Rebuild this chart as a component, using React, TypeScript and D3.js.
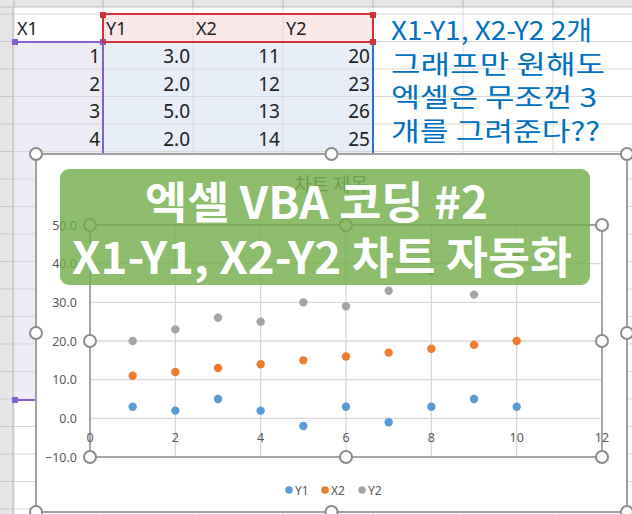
import React from 'react';
import * as d3 from 'd3';

// ---- data ----
const xValues = [1, 2, 3, 4, 5, 6, 7, 8, 9, 10];
const y1Values = [3, 2, 5, 2, -2, 3, -1, 3, 5, 3];
const x2Values = [11, 12, 13, 14, 15, 16, 17, 18, 19, 20];
const y2Values = [20, 23, 26, 25, 30, 29, 33, 38, 32, 42];
const seriesNames = ['Y1', 'X2', 'Y2'];
const seriesColors = ['#5b9bd5', '#ed7d31', '#a5a5a5'];
const xTicks = [0, 2, 4, 6, 8, 10, 12];
const yTicks = [-10, 0, 10, 20, 30, 40, 50];
const headerLabels = ['X1', 'Y1', 'X2', 'Y2'];
const tableRows = 4;
const noteLines = ['X1-Y1, X2-Y2 2개', '그래프만 원해도', '엑셀은 무조껀 3', '개를 그려준다??'];
const noteWidths = [201, 214, 206, 209];
const bannerLines = ['엑셀 VBA 코딩 #2', 'X1-Y1, X2-Y2 차트 자동화'];
const chartTitle = '차트 제목';

const W = 632;
const H = 514;
const colEdges = [14, 103, 193, 283, 373, 463, 553, 643];
const rowTop = 14;
const rowH = 27.5;
const KR = '"Noto Sans CJK KR", "Noto Sans", sans-serif';
const UI = '"Noto Sans", "Open Sans", sans-serif';

const chart = { x0: 36, x1: 627, y0: 154, y1: 512 };
const plot = { x0: 90, x1: 602, y0: 225, y1: 457 };

export default function App() {
  const x = d3.scaleLinear().domain([0, 12]).range([plot.x0, plot.x1]);
  const y = d3.scaleLinear().domain([-10, 50]).range([plot.y1, plot.y0]);
  const series = [y1Values, x2Values, y2Values];
  const fmt1 = d3.format('.1f');

  const rowLines = d3.range(0, 19).map((k) => rowTop + k * rowH);

  const handle = (cx: number, cy: number, key: string) => (
    <circle key={key} cx={cx} cy={cy} r={6} fill="#fff" stroke="#8c8c8c" strokeWidth={2} />
  );
  const sq = (cx: number, cy: number, color: string, key: string) => (
    <rect key={key} x={cx - 3} y={cy - 3} width={6} height={6} fill={color} />
  );

  const colVals = [xValues, y1Values, x2Values, y2Values];

  const legendItems = [
    { dot: 289, text: 295 },
    { dot: 325, text: 331 },
    { dot: 362, text: 368 },
  ];

  return (
    <svg width={W} height={H} style={{ position: 'absolute', left: 0, top: 0 }}>
      <rect x={0} y={0} width={W} height={H} fill="#fff" />
      {/* selection fills */}
      <rect x={14} y={42} width={89} height={358} fill="#eeecf7" />
      <rect x={103} y={42} width={270} height={358} fill="#e8eef8" />
      <rect x={103} y={14} width={270} height={28} fill="#fbe9e9" />
      {/* grid */}
      {colEdges.map((cx, i) => (
        <line key={'vc' + i} x1={cx} x2={cx} y1={7} y2={H} stroke="#d9d9d9" />
      ))}
      {rowLines.map((ry, i) => (
        <line key={'hr' + i} x1={13} x2={W} y1={ry} y2={ry} stroke="#d9d9d9" />
      ))}
      {/* row header */}
      <rect x={0} y={0} width={13} height={H} fill="#e6e6e6" />
      {rowLines.map((ry, i) => (
        <line key={'rh' + i} x1={0} x2={13} y1={ry} y2={ry} stroke="#c9c9c9" />
      ))}
      <line x1={13} x2={13} y1={0} y2={H} stroke="#b5b5b5" />
      {/* column header strip */}
      <rect x={0} y={0} width={W} height={7} fill="#e6e6e6" />
      {colEdges.map((cx, i) => (
        <line key={'ch' + i} x1={cx} x2={cx} y1={0} y2={7} stroke="#b5b5b5" />
      ))}
      <line x1={0} x2={W} y1={7} y2={7} stroke="#c0c0c0" />
      {/* selection borders */}
      <line x1={14} x2={103} y1={42} y2={42} stroke="#8560c8" strokeWidth={2} />
      <line x1={14} x2={35} y1={400} y2={400} stroke="#8560c8" strokeWidth={2} />
      <line x1={103} x2={103} y1={42} y2={400} stroke="#8560c8" strokeWidth={2} />
      {sq(15, 42, '#8560c8', 'p1')}
      {sq(103, 42, '#8560c8', 'p2')}
      {sq(15, 400, '#8560c8', 'p3')}
      <rect x={103} y={14} width={270} height={28} fill="none" stroke="#d13438" strokeWidth={2} />
      {sq(103, 15, '#d13438', 'r1')}
      {sq(373, 15, '#d13438', 'r2')}
      {sq(373, 42, '#d13438', 'r3')}
      <line x1={373} x2={373} y1={45} y2={400} stroke="#2e6fd1" strokeWidth={2} />
      {/* cell texts */}
      {headerLabels.map((h, i) => (
        <text key={'hd' + i} x={colEdges[i] + 3} y={35} fontFamily={UI} fontSize={18} fill="#222">
          {h}
        </text>
      ))}
      {colVals.map((vals, c) =>
        vals.slice(0, tableRows).map((v, r) => (
          <text
            key={'cv' + c + '-' + r}
            x={colEdges[c + 1] - 3}
            y={63 + r * rowH}
            textAnchor="end"
            fontFamily={UI}
            fontSize={19}
            fill="#222"
          >
            {c === 1 ? fmt1(v) : String(v)}
          </text>
        ))
      )}
      {/* blue note */}
      {noteLines.map((t, i) => (
        <text
          key={'nt' + i}
          x={391}
          y={40 + i * 33.5}
          fontFamily={KR}
          fontSize={26}
          fill="#0070c0"
          textLength={noteWidths[i]}
          lengthAdjust="spacingAndGlyphs"
        >
          {t}
        </text>
      ))}

      {/* chart area */}
      <rect
        x={chart.x0}
        y={chart.y0}
        width={chart.x1 - chart.x0}
        height={chart.y1 - chart.y0}
        fill="#fff"
        stroke="#a0a0a0"
        strokeWidth={2}
      />
      <text x={331} y={192} textAnchor="middle" fontFamily={KR} fontSize={19} fill="#595959">
        {chartTitle}
      </text>
      {/* gridlines */}
      {yTicks.map((t) => (
        <line key={'gy' + t} x1={plot.x0} x2={plot.x1} y1={y(t)} y2={y(t)} stroke="#d9d9d9" strokeWidth={1.3} />
      ))}
      {xTicks.map((t) => (
        <line key={'gx' + t} x1={x(t)} x2={x(t)} y1={plot.y0} y2={plot.y1} stroke="#d9d9d9" strokeWidth={1.3} />
      ))}
      {/* plot frame */}
      <rect
        x={plot.x0}
        y={plot.y0}
        width={plot.x1 - plot.x0}
        height={plot.y1 - plot.y0}
        fill="none"
        stroke="#a6a6a6"
        strokeWidth={2}
      />
      {/* tick labels */}
      {yTicks.map((t) => (
        <text key={'ly' + t} x={77} y={y(t) + 4.5} textAnchor="end" fontFamily={UI} fontSize={12.5} fill="#595959">
          {fmt1(t)}
        </text>
      ))}
      {xTicks.map((t) => (
        <text key={'lx' + t} x={x(t)} y={y(0) + 23.5} textAnchor="middle" fontFamily={UI} fontSize={12.5} fill="#595959">
          {t}
        </text>
      ))}
      {/* points */}
      {series.map((vals, s) =>
        vals.map((v, i) => (
          <circle key={'pt' + s + '-' + i} cx={x(xValues[i])} cy={y(v)} r={4.2} fill={seriesColors[s]} />
        ))
      )}
      {/* legend */}
      {seriesNames.map((n, i) => (
        <g key={'lg' + i}>
          <circle cx={legendItems[i].dot} cy={490} r={3.8} fill={seriesColors[i]} />
          <text x={legendItems[i].text} y={494.5} fontFamily={UI} fontSize={12} fill="#595959">
            {n}
          </text>
        </g>
      ))}
      {/* handles */}
      {[
        [chart.x0, chart.y0],
        [(chart.x0 + chart.x1) / 2, chart.y0],
        [chart.x1, chart.y0],
        [chart.x0, (chart.y0 + chart.y1) / 2],
        [chart.x1, (chart.y0 + chart.y1) / 2],
        [chart.x0, chart.y1],
        [(chart.x0 + chart.x1) / 2, chart.y1],
        [chart.x1, chart.y1],
        [plot.x0, plot.y0],
        [(plot.x0 + plot.x1) / 2, plot.y0],
        [plot.x1, plot.y0],
        [plot.x0, (plot.y0 + plot.y1) / 2],
        [plot.x1, (plot.y0 + plot.y1) / 2],
        [plot.x0, plot.y1],
        [(plot.x0 + plot.x1) / 2, plot.y1],
        [plot.x1, plot.y1],
      ].map((p, i) => handle(p[0], p[1], 'h' + i))}

      {/* banner */}
      <rect x={60} y={169} width={530} height={116} rx={9} fill="#70ad47" fillOpacity={0.8} />
      <text
        x={145}
        y={219}
        fontFamily={KR}
        fontWeight="bold"
        fontSize={44}
        fill="#fff"
        textLength={343}
        lengthAdjust="spacingAndGlyphs"
      >
        {bannerLines[0]}
      </text>
      <text
        x={72}
        y={274}
        fontFamily={KR}
        fontWeight="bold"
        fontSize={44}
        fill="#fff"
        textLength={500}
        lengthAdjust="spacingAndGlyphs"
      >
        {bannerLines[1]}
      </text>
    </svg>
  );
}
